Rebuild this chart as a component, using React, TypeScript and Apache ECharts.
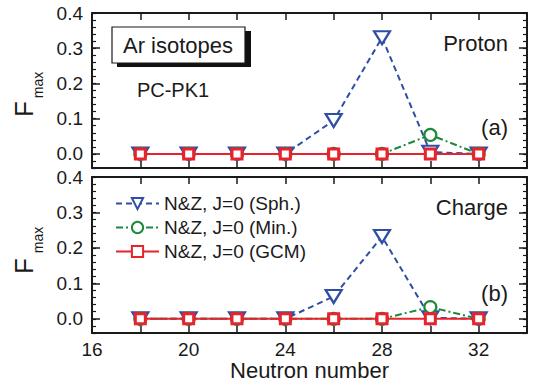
import React, { useEffect, useRef } from "react";
import * as echarts from "echarts";

const neutrons = [18, 20, 22, 24, 26, 28, 30, 32];
const protonSph = [0, 0, 0, 0, 0.095, 0.33, 0.005, 0];
const protonMin = [0, 0, 0, 0, 0, 0, 0.054, 0];
const protonGCM = [0, 0, 0, 0, 0, 0, 0, 0];
const chargeSph = [0, 0, 0, 0, 0.063, 0.232, 0.003, 0];
const chargeMin = [0, 0, 0, 0, 0, 0, 0.033, 0];
const chargeGCM = [0, 0, 0, 0, 0, 0, 0, 0];
const seriesNames = ["N&Z, J=0 (Sph.)", "N&Z, J=0 (Min.)", "N&Z, J=0 (GCM)"];
const yMajorTicks = [0, 0.1, 0.2, 0.3, 0.4];

const FONT = "'Liberation Sans', Arial, sans-serif";
const BLUE = "#2f4ea6";
const GREEN = "#1b8a3a";
const RED = "#e8232b";
const AXIS = "#1a1a1a";

function pairs(vals: number[]) {
  return neutrons.map((n, i) => [n, vals[i]]);
}

export default function App() {
  const ref = useRef<HTMLDivElement>(null);
  useEffect(() => {
    document.body.style.margin = "0";
    const chart = echarts.init(ref.current!, null, { renderer: "svg" });

    const grids = [
      { left: 92, top: 13, width: 435, height: 155 },
      { left: 92, top: 177, width: 435, height: 156 },
    ];

    const xAxes: any[] = [];
    const yAxes: any[] = [];
    grids.forEach((_, g) => {
      ["bottom", "top"].forEach((pos) => {
        const labeled = g === 1 && pos === "bottom";
        xAxes.push({
          type: "value",
          gridIndex: g,
          position: pos,
          min: 16,
          max: 34,
          interval: 2,
          axisLine: { show: true, onZero: false, lineStyle: { color: AXIS, width: 2 } },
          axisTick: { show: true, inside: true, length: 7, lineStyle: { color: AXIS, width: 1.5 } },
          splitLine: { show: false },
          axisLabel: {
            show: labeled,
            margin: 7,
            fontSize: 19,
            fontFamily: FONT,
            color: "#1a1a1a",
            formatter: (v: number) => (v % 4 === 0 && v < 34 ? String(v) : ""),
          },
          name: labeled ? "Neutron number" : "",
          nameLocation: "middle",
          nameGap: 25,
          nameTextStyle: { fontSize: 22, fontFamily: FONT, color: "#1a1a1a" },
        });
      });
      ["left", "right"].forEach((pos) => {
        yAxes.push({
          type: "value",
          gridIndex: g,
          position: pos,
          min: -0.04,
          max: 0.4,
          interval: 0.02,
          axisLine: { show: true, onZero: false, lineStyle: { color: AXIS, width: 2 } },
          axisTick: { show: true, inside: true, length: 4, lineStyle: { color: AXIS, width: 1.2 } },
          splitLine: { show: false },
          axisLabel: {
            show: pos === "left",
            margin: 9,
            fontSize: 19,
            fontFamily: FONT,
            color: "#1a1a1a",
            formatter: (v: number) => {
              const r = Math.round(v * 10) / 10;
              return Math.abs(v - r) < 1e-6 && v > -1e-6 ? r.toFixed(1) : "";
            },
          },
        });
        yAxes.push({
          type: "value",
          gridIndex: g,
          position: pos,
          min: -0.04,
          max: 0.4,
          axisLine: { show: false },
          axisTick: {
            show: true,
            inside: true,
            length: 8,
            customValues: yMajorTicks,
            lineStyle: { color: AXIS, width: 1.5 },
          },
          splitLine: { show: false },
          axisLabel: { show: false, customValues: yMajorTicks },
        });
      });
    });

    const makeSeries = (g: number, vals: number[][]) => {
      const xi = g * 2;
      const yi = g * 4;
      return [
        {
          name: seriesNames[0],
          type: "line",
          xAxisIndex: xi,
          yAxisIndex: yi,
          data: pairs(vals[0]),
          symbol: "triangle",
          symbolRotate: 180,
          symbolSize: [16, 13],
          lineStyle: { color: BLUE, width: 2, type: [6, 4] },
          itemStyle: { color: "#ffffff", borderColor: BLUE, borderWidth: 2.2 },
          z: 2,
        },
        {
          name: seriesNames[1],
          type: "line",
          xAxisIndex: xi,
          yAxisIndex: yi,
          data: pairs(vals[1]),
          symbol: "circle",
          symbolSize: 12,
          lineStyle: { color: GREEN, width: 2, type: [7, 3, 2, 3] },
          itemStyle: { color: "#ffffff", borderColor: GREEN, borderWidth: 2.2 },
          z: 3,
        },
        {
          name: seriesNames[2],
          type: "line",
          xAxisIndex: xi,
          yAxisIndex: yi,
          data: pairs(vals[2]),
          symbol: "rect",
          symbolSize: 10,
          lineStyle: { color: RED, width: 2, type: "solid" },
          itemStyle: { color: "#ffffff", borderColor: RED, borderWidth: 3 },
          z: 4,
        },
      ];
    };

    const textStyle = (text: string, fontSize: number) => ({
      text,
      fontSize,
      fontFamily: FONT,
      fill: "#1a1a1a",
    });

    chart.setOption({
      animation: false,
      backgroundColor: "#ffffff",
      grid: grids,
      xAxis: xAxes,
      yAxis: yAxes,
      legend: {
        left: 110,
        top: 189,
        orient: "vertical",
        itemWidth: 43,
        itemHeight: 14,
        itemGap: 5,
        data: seriesNames,
        textStyle: { fontSize: 19, fontFamily: FONT, color: "#1a1a1a", padding: [0, 0, 0, 0] },
      },
      series: [
        ...makeSeries(0, [protonSph, protonMin, protonGCM]),
        ...makeSeries(1, [chargeSph, chargeMin, chargeGCM]),
      ],
      graphic: [
        { type: "rect", shape: { x: 117, y: 31, width: 134, height: 36 }, style: { fill: "#111" }, z: 10 },
        {
          type: "rect",
          shape: { x: 112, y: 27, width: 133, height: 36 },
          style: { fill: "#fff", stroke: "#1a1a1a", lineWidth: 1.2 },
          z: 11,
        },
        {
          type: "text",
          x: 178,
          y: 45,
          style: { ...textStyle("Ar isotopes", 22), align: "center", verticalAlign: "middle" },
          z: 12,
        },
        {
          type: "text",
          x: 173,
          y: 90,
          style: { ...textStyle("PC-PK1", 20), align: "center", verticalAlign: "middle" },
          z: 12,
        },
        {
          type: "text",
          x: 508,
          y: 43,
          style: { ...textStyle("Proton", 22), align: "right", verticalAlign: "middle" },
          z: 12,
        },
        {
          type: "text",
          x: 508,
          y: 127,
          style: { ...textStyle("(a)", 22), align: "right", verticalAlign: "middle" },
          z: 12,
        },
        {
          type: "text",
          x: 508,
          y: 207,
          style: { ...textStyle("Charge", 22), align: "right", verticalAlign: "middle" },
          z: 12,
        },
        {
          type: "text",
          x: 508,
          y: 293,
          style: { ...textStyle("(b)", 22), align: "right", verticalAlign: "middle" },
          z: 12,
        },
        {
          type: "text",
          x: 24,
          y: 109,
          rotation: Math.PI / 2,
          style: { ...textStyle("F", 26), align: "center", verticalAlign: "middle" },
          z: 12,
        },
        {
          type: "text",
          x: 38,
          y: 85,
          rotation: Math.PI / 2,
          style: { ...textStyle("max", 14), align: "center", verticalAlign: "middle" },
          z: 12,
        },
        {
          type: "text",
          x: 24,
          y: 266,
          rotation: Math.PI / 2,
          style: { ...textStyle("F", 26), align: "center", verticalAlign: "middle" },
          z: 12,
        },
        {
          type: "text",
          x: 38,
          y: 240,
          rotation: Math.PI / 2,
          style: { ...textStyle("max", 14), align: "center", verticalAlign: "middle" },
          z: 12,
        },
      ],
    });
    return () => chart.dispose();
  }, []);
  return (
    <div
      ref={ref}
      style={{ position: "absolute", left: 0, top: 0, width: 536, height: 385 }}
    />
  );
}
